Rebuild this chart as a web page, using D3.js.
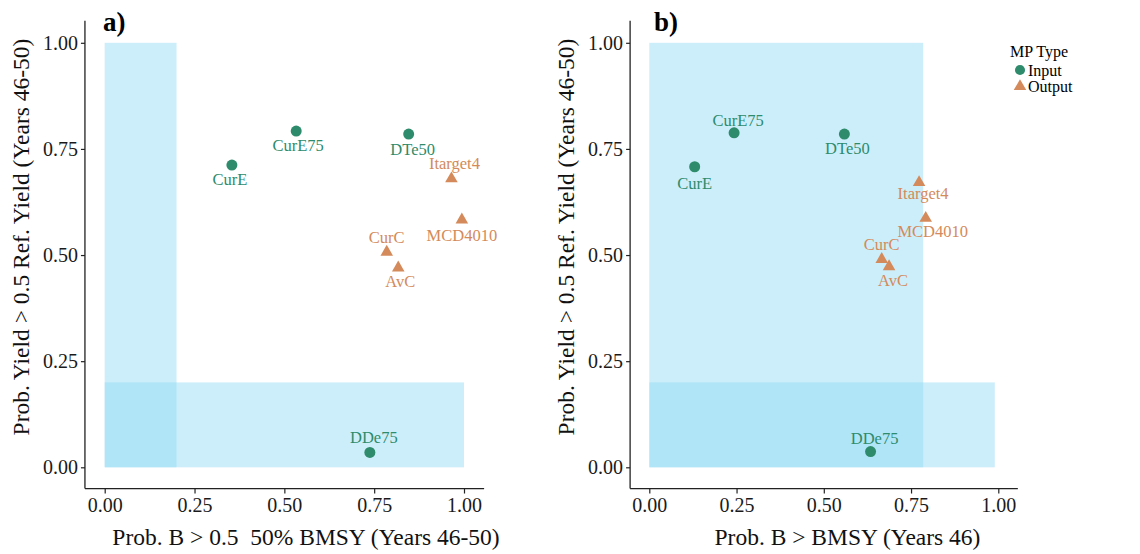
<!DOCTYPE html>
<html>
<head>
<meta charset="utf-8">
<script src="https://cdn.jsdelivr.net/npm/d3@7"></script>
<style>
  body { margin: 0; background: #fff; }
  svg { font-family: "Liberation Serif", "Times New Roman", serif; }
</style>
</head>
<body>
<div id="chart"></div>
<script>
// MP names and type (same in both panels)
var mpNames = ["CurE", "CurE75", "DTe50", "Itarget4", "MCD4010", "CurC", "AvC", "DDe75"]
var mpTypes = ["Input", "Input", "Input", "Output", "Output", "Output", "Output", "Input"]

// panel a: Prob. B > 0.5 BMSY  vs  Prob. Yield > 0.5 Ref. Yield
var probB50 = [0.354, 0.533, 0.846, 0.965, 0.994, 0.785, 0.817, 0.738]
var probYieldA = [0.712, 0.792, 0.785, 0.680, 0.583, 0.507, 0.470, 0.035]

// panel b: Prob. B > BMSY  vs  Prob. Yield > 0.5 Ref. Yield
var probBmsy = [0.130, 0.243, 0.559, 0.773, 0.792, 0.666, 0.687, 0.634]
var probYieldB = [0.708, 0.788, 0.785, 0.671, 0.587, 0.490, 0.473, 0.037]

var tickValues = [0, 0.25, 0.5, 0.75, 1]
var typeNames = ["Input", "Output"]

// shaded zones [x0, x1, y0, y1]
var zonesA = [[0, 0.2, 0, 1], [0, 1, 0, 0.2]]
var zonesB = [[0, 0.785, 0, 1], [0, 0.99, 0, 0.2]]

// label offsets in px (repelled text), not data
var labelOffA = [[-2, 14], [2, 14], [4, 15], [3, -15], [0, 15], [0, -15], [2, 13], [4, -15]]
var labelOffB = [[0, 16], [4, -13], [3, 14], [4, 11], [7, 13], [0, -15], [4, 14], [4, -13]]

var colour = { Input: "#2e8b6b", Output: "#d48a5a" }
var zoneFill = "rgb(142,217,244)"

var svg = d3.select("#chart").append("svg")
    .attr("width", 1140)
    .attr("height", 554)

function drawPanel(cfg) {
    var x = d3.scaleLinear().domain([0, 1]).range(cfg.xRange)
    var y = d3.scaleLinear().domain([0, 1]).range([467.3, 42.8])
    var g = svg.append("g")

    // zones
    g.selectAll("rect.zone")
        .data(cfg.zones)
        .enter().append("rect")
        .attr("x", d => x(d[0]))
        .attr("width", d => x(d[1]) - x(d[0]))
        .attr("y", d => y(d[3]))
        .attr("height", d => y(d[2]) - y(d[3]))
        .attr("fill", zoneFill)
        .attr("fill-opacity", 0.45)

    // axes
    var xLeft = x(-0.055), xRight = x(1.056)
    var yTop = y(1.052), yBottom = y(-0.05)

    var xAxis = g.append("g")
        .attr("transform", "translate(0," + yBottom + ")")
        .call(d3.axisBottom(x).tickValues(tickValues).tickFormat(d3.format(".2f")).tickSize(5).tickSizeOuter(0).tickPadding(4))
    xAxis.select(".domain").remove()
    xAxis.append("line").attr("x1", xLeft).attr("x2", xRight).attr("stroke", "#222").attr("stroke-width", 1.3)

    var yAxis = g.append("g")
        .attr("transform", "translate(" + xLeft + ",0)")
        .call(d3.axisLeft(y).tickValues(tickValues).tickFormat(d3.format(".2f")).tickSize(4).tickSizeOuter(0).tickPadding(3))
    yAxis.select(".domain").remove()
    yAxis.append("line").attr("y1", yTop).attr("y2", yBottom).attr("stroke", "#222").attr("stroke-width", 1.3)

    svg.selectAll(".tick line").attr("stroke", "#222").attr("stroke-width", 1.2)
    svg.selectAll(".tick text").attr("fill", "#1a1a1a").attr("font-size", "20px").attr("font-family", "Liberation Serif")

    // axis titles
    svg.append("text")
        .attr("x", cfg.xTitleX)
        .attr("y", 545)
        .attr("text-anchor", "middle")
        .attr("font-size", "23.5px")
        .attr("fill", "#111")
        .text(cfg.xTitle)

    svg.append("text")
        .attr("transform", "translate(" + cfg.yTitleX + ",237) rotate(-90)")
        .attr("text-anchor", "middle")
        .attr("font-size", "23.5px")
        .attr("fill", "#111")
        .text("Prob. Yield > 0.5 Ref. Yield (Years 46-50)")

    // panel tag
    svg.append("text")
        .attr("x", cfg.tagX)
        .attr("y", 31)
        .attr("font-size", "27px")
        .attr("font-weight", "bold")
        .attr("fill", "#000")
        .text(cfg.tag)

    // points
    var triangle = d3.symbol().type(d3.symbolTriangle).size(68)
    var circle = d3.symbol().type(d3.symbolCircle).size(95)
    g.selectAll("path.pt")
        .data(mpNames)
        .enter().append("path")
        .attr("d", (d, i) => mpTypes[i] == "Input" ? circle() : triangle())
        .attr("transform", (d, i) => "translate(" + x(cfg.xs[i]) + "," + y(cfg.ys[i]) + ")")
        .attr("fill", (d, i) => colour[mpTypes[i]])

    // labels
    g.selectAll("text.lab")
        .data(mpNames)
        .enter().append("text")
        .attr("x", (d, i) => x(cfg.xs[i]) + cfg.offs[i][0])
        .attr("y", (d, i) => y(cfg.ys[i]) + cfg.offs[i][1])
        .attr("dy", "0.35em")
        .attr("text-anchor", "middle")
        .attr("font-size", "16.5px")
        .attr("fill", (d, i) => colour[mpTypes[i]])
        .text(d => d)
}

drawPanel({
    xRange: [104.7, 464], xs: probB50, ys: probYieldA, zones: zonesA, offs: labelOffA,
    xTitle: "Prob. B > 0.5\u00a0\u00a050% BMSY (Years 46-50)", xTitleX: 306, yTitleX: 29, tag: "a)", tagX: 103
})
drawPanel({
    xRange: [649.3, 998.3], xs: probBmsy, ys: probYieldB, zones: zonesB, offs: labelOffB,
    xTitle: "Prob. B > BMSY (Years 46)", xTitleX: 847.5, yTitleX: 574, tag: "b)", tagX: 654
})

// legend
var legend = svg.append("g")
legend.append("text")
    .attr("x", 1010).attr("y", 57)
    .attr("font-size", "16px")
    .text("MP Type")
legend.selectAll("path.key")
    .data(typeNames)
    .enter().append("path")
    .attr("d", (d, i) => d3.symbol().type(i == 0 ? d3.symbolCircle : d3.symbolTriangle).size(i == 0 ? 80 : 68)())
    .attr("transform", (d, i) => "translate(1020," + (70 + i * 16.5) + ")")
    .attr("fill", d => colour[d])
legend.selectAll("text.key")
    .data(typeNames)
    .enter().append("text")
    .attr("x", 1028)
    .attr("y", (d, i) => 70 + i * 16.5)
    .attr("dy", "0.35em")
    .attr("font-size", "16px")
    .text(d => d)
</script>
</body>
</html>
